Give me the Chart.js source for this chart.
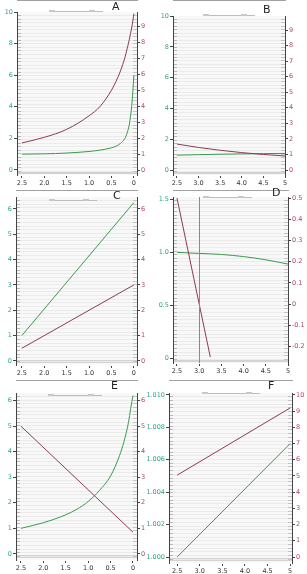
<!DOCTYPE html>
<html>
<head>
<meta charset="utf-8">
<script src="https://cdn.jsdelivr.net/npm/chart.js@4/dist/chart.umd.min.js"></script>
<style>
body { margin: 0; background: #fff; width: 307px; height: 574px; position: relative; overflow: hidden; font-family: "DejaVu Sans", sans-serif; }
canvas { position: absolute; }
.lbl { position: absolute; font-size: 11px; color: #222; }
.bar { position: absolute; height: 0; border-top: 1px solid #bdbdbd; }
.bar i { position: absolute; top: -2px; width: 6px; height: 2px; background: #c8c8c8; }
</style>
</head>
<body>
<script>
// ---- data ----
// A
const xA = [2.5, 2.0, 1.5, 1.0, 0.75, 0.5, 0.4, 0.3, 0.2, 0.15, 0.1, 0.05, 0.02, 0];
const greenA = [1.0, 1.02, 1.07, 1.17, 1.26, 1.4, 1.5, 1.68, 2.0, 2.35, 2.9, 4.0, 5.1, 6.0];
const redA = [1.7, 2.05, 2.55, 3.4, 4.0, 5.0, 5.55, 6.2, 7.05, 7.6, 8.2, 8.9, 9.4, 9.8];
// B
const xB = [2.5, 3.0, 3.5, 4.0, 4.5, 5.0];
const greenB = [0.97, 1.0, 1.03, 1.05, 1.07, 1.08];
const redB = [1.67, 1.45, 1.27, 1.12, 1.0, 0.9];
// C
const xC = [2.5, 0];
const greenC = [1.0, 6.25];
const redC = [0.5, 3.0];
// D
const xD = [2.5, 3.0, 3.5, 4.0, 4.5, 5.0];
const greenD = [1.0, 0.99, 0.98, 0.96, 0.93, 0.89];
const xDred = [2.5, 3.25];
const redD = [0.5, -0.25];
// E
const xE = [2.5, 2.0, 1.5, 1.25, 1.0, 0.75, 0.5, 0.3, 0.2, 0.1, 0.05, 0];
const greenE = [1.0, 1.22, 1.53, 1.75, 2.05, 2.48, 3.05, 3.85, 4.4, 5.15, 5.7, 6.2];
const xEred = [2.5, 0];
const redE = [5.0, 0.85];
// F
const xF = [2.5, 5.0];
const greenF = [1.000, 1.007];
const redF = [5.05, 9.2];

// tick labels
const xTicksRev = [2.5, 2.0, 1.5, 1.0, 0.5, 0];
const xTicksFwd = [2.5, 3.0, 3.5, 4.0, 4.5, 5.0];
const leftTicks10 = [0, 2, 4, 6, 8, 10];
const rightTicks9 = [0, 1, 2, 3, 4, 5, 6, 7, 8, 9];
const ticks6 = [0, 1, 2, 3, 4, 5, 6];
const leftTicksD = [0, 0.5, 1.0, 1.5];
const rightTicksD = [-0.2, -0.1, 0, 0.1, 0.2, 0.3, 0.4, 0.5];
const leftTicksF = [1.000, 1.002, 1.004, 1.006, 1.008, 1.010];
const rightTicksF = [0, 1, 2, 3, 4, 5, 6, 7, 8, 9, 10];

// ---- styling ----
const GREEN = '#3a9a4c';
const RED = '#8e3b50';
const TEAL = '#2aa588';
const MAROON = '#b24560';
const AXIS = '#444';

const fmt1 = v => (v === 0 ? '0' : v.toFixed(1));
const fmtInt = v => String(v);
const fmtX5 = v => (v === 5 ? '5' : v.toFixed(1));
const fmt3 = v => v.toFixed(3);

const panels = [
  { letter: 'A', box: [0, 0, 152, 190], plot: [17, 12, 137, 175], xr: [-0.07, 2.61], rev: true,
    yl: [-0.32, 10], yr: [-0.31, 9.9], xt: xTicksRev, lt: leftTicks10, rt: rightTicks9,
    xf: fmt1, lf: fmtInt, rf: fmtInt,
    g: [xA, greenA], r: [xA, redA], letterPos: [112, 0], bar: [49, 11, 54] },
  { letter: 'B', box: [147, 0, 160, 190], plot: [173, 16, 285, 175], xr: [2.41, 5.0], rev: false,
    yl: [-0.32, 10], yr: [-0.32, 9.9], xt: xTicksFwd, lt: leftTicks10, rt: rightTicks9,
    xf: fmtX5, lf: fmtInt, rf: fmtInt,
    g: [xB, greenB], r: [xB, redB], letterPos: [263, 3], bar: [203, 15, 52] },
  { letter: 'C', box: [0, 190, 152, 190], plot: [16, 197, 137, 365], xr: [-0.07, 2.63], rev: true,
    yl: [-0.16, 6.47], yr: [-0.16, 6.47], xt: xTicksRev, lt: ticks6, rt: ticks6,
    xf: fmt1, lf: fmtInt, rf: fmtInt,
    g: [xC, greenC], r: [xC, redC], letterPos: [113, 189], bar: [49, 200, 48] },
  { letter: 'D', box: [147, 190, 160, 190], plot: [173, 197, 288, 363], xr: [2.41, 5.0], rev: false,
    yl: [-0.04, 1.52], yr: [-0.278, 0.505], xt: xTicksFwd, lt: leftTicksD, rt: rightTicksD,
    xf: fmtX5, lf: fmt1, rf: fmt1, vline: 3.0,
    g: [xD, greenD], r: [xDred, redD], letterPos: [272, 186], bar: [203, 197, 49] },
  { letter: 'E', box: [0, 380, 152, 194], plot: [16, 393, 137, 560], xr: [-0.09, 2.61], rev: true,
    yl: [-0.24, 6.3], yr: [-0.24, 6.3], xt: xTicksRev, lt: ticks6, rt: ticks6,
    xf: fmt1, lf: fmtInt, rf: fmtInt,
    g: [xE, greenE], r: [xEred, redE], letterPos: [111, 379], bar: [48, 395, 54] },
  { letter: 'F', box: [147, 380, 160, 194], plot: [169, 393, 292, 563], xr: [2.32, 5.04], rev: false,
    yl: [0.99963, 1.01012], yr: [-0.37, 10.12], xt: xTicksFwd, lt: leftTicksF, rt: rightTicksF,
    xf: fmtX5, lf: fmt3, rf: fmtInt,
    g: [xF, greenF], r: [xF, redF], letterPos: [268, 379], bar: [202, 393, 58] }
];

const bgPlugin = {
  id: 'bg',
  beforeDraw(chart) {
    const { ctx, chartArea: a } = chart;
    ctx.save();
    ctx.fillStyle = '#f8f8f8';
    ctx.fillRect(a.left, a.top, a.right - a.left, a.bottom - a.top);
    ctx.restore();
  }
};

function gridColor(ctx) {
  const chart = ctx.chart;
  const a = chart.chartArea;
  if (!a) return '#ececec';
  const w = a.right - a.left;
  const g = chart.ctx.createLinearGradient(a.left, 0, a.right, 0);
  const e = 4 / w;
  g.addColorStop(0, '#b8b8b8');
  g.addColorStop(e, '#b8b8b8');
  g.addColorStop(e + 0.001, '#ebebeb');
  g.addColorStop(1 - e - 0.001, '#ebebeb');
  g.addColorStop(1 - e, '#c4c4c4');
  g.addColorStop(1, '#c4c4c4');
  return g;
}

const pts = (xs, ys) => xs.map((x, i) => ({ x: x, y: ys[i] }));
const tickFont = { family: 'DejaVu Sans', size: 6.5 };

function makePanel(p) {
  const [bx, by, bw, bh] = p.box;
  const [pl, pt, pr, pb] = p.plot;
  const cv = document.createElement('canvas');
  cv.width = bw; cv.height = bh;
  cv.style.left = bx + 'px'; cv.style.top = by + 'px';
  cv.style.width = bw + 'px'; cv.style.height = bh + 'px';
  document.body.appendChild(cv);

  const lab = document.createElement('div');
  lab.className = 'lbl';
  lab.textContent = p.letter;
  lab.style.left = p.letterPos[0] + 'px';
  lab.style.top = p.letterPos[1] + 'px';
  document.body.appendChild(lab);

  const bar = document.createElement('div');
  bar.className = 'bar';
  bar.style.left = p.bar[0] + 'px';
  bar.style.top = p.bar[1] + 'px';
  bar.style.width = p.bar[2] + 'px';
  bar.innerHTML = '<i style="left:0"></i><i style="right:8px"></i>';
  document.body.appendChild(bar);

  new Chart(cv, {
    type: 'line',
    data: {
      datasets: [
        { data: pts(p.r[0], p.r[1]), yAxisID: 'yR', borderColor: RED, borderWidth: 1,
          pointRadius: 0, cubicInterpolationMode: 'monotone' },
        { data: pts(p.g[0], p.g[1]), yAxisID: 'yL', borderColor: GREEN, borderWidth: 1,
          pointRadius: 0, cubicInterpolationMode: 'monotone' }
      ]
    },
    options: {
      responsive: false,
      animation: false,
      layout: { padding: { left: 0, right: 0, top: pt - by, bottom: 0 } },
      plugins: { legend: { display: false }, tooltip: { enabled: false } },
      scales: {
        x: {
          type: 'linear', min: p.xr[0], max: p.xr[1], reverse: p.rev,
          afterBuildTicks: s => { s.ticks = p.xt.map(v => ({ value: v })); },
          afterFit: s => { s.height = by + bh - pb; },
          ticks: { color: '#333', font: tickFont, padding: 1, maxRotation: 0, autoSkip: false, callback: p.xf },
          grid: {
            drawOnChartArea: p.vline !== undefined,
            color: c => (c.tick && c.tick.value === p.vline ? '#8a8a8a' : 'rgba(0,0,0,0)'),
            tickColor: AXIS, tickLength: 3, z: 1
          },
          border: { color: AXIS, width: 1 }
        },
        yL: {
          position: 'left', min: p.yl[0], max: p.yl[1],
          afterBuildTicks: s => { s.ticks = p.lt.map(v => ({ value: v })); },
          afterFit: s => { s.width = pl - bx; },
          ticks: { color: TEAL, font: tickFont, padding: 1, autoSkip: false, callback: p.lf },
          grid: { drawOnChartArea: false, tickColor: AXIS, tickLength: 3 },
          border: { color: AXIS, width: 1 }
        },
        yR: {
          position: 'right', min: p.yr[0], max: p.yr[1],
          afterBuildTicks: s => { s.ticks = p.rt.map(v => ({ value: v })); },
          afterFit: s => { s.width = bx + bw - pr; },
          ticks: { color: MAROON, font: tickFont, padding: 1, autoSkip: false, callback: p.rf },
          grid: { drawOnChartArea: false, tickColor: AXIS, tickLength: 3 },
          border: { color: AXIS, width: 1 }
        },
        g: {
          position: 'left', min: 0, max: 1,
          afterBuildTicks: s => {
            const t = [{ value: 0.018 }];
            for (let i = 1; i < 46; i++) t.push({ value: i / 46 });
            s.ticks = t;
          },
          afterFit: s => { s.width = 0; },
          ticks: { display: false },
          grid: {
            drawTicks: false,
            color: c => (c.index === 0 ? '#d2d2d2' : gridColor(c)),
            lineWidth: c => (c.index === 0 ? 3 : 1)
          },
          border: { display: false }
        }
      }
    },
    plugins: [bgPlugin]
  });
}

panels.forEach(makePanel);
</script>
</body>
</html>
